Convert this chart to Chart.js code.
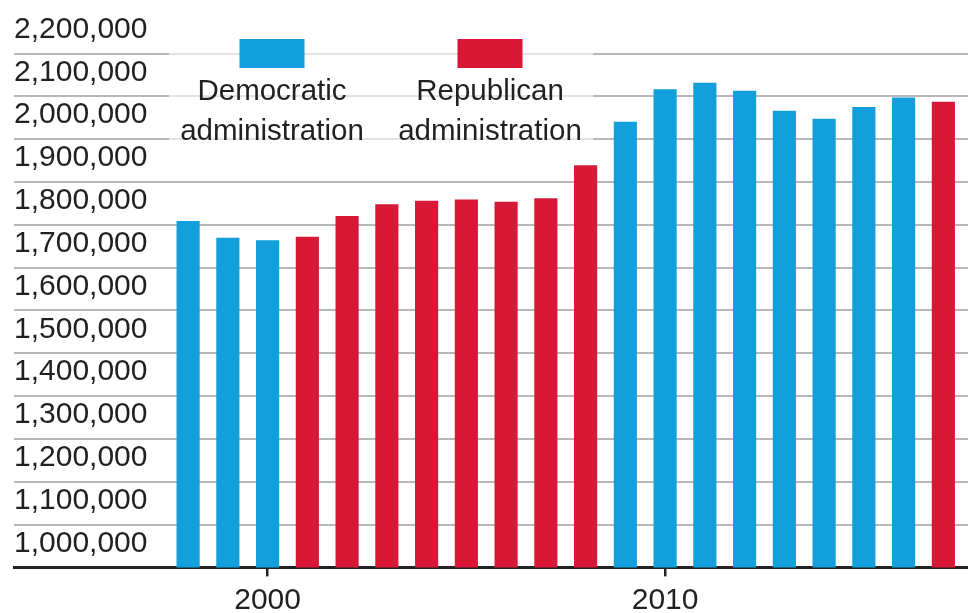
<!DOCTYPE html>
<html>
<head>
<meta charset="utf-8">
<script src="https://cdn.jsdelivr.net/npm/chart.js@4.4.1/dist/chart.umd.min.js"></script>
<style>
  html, body { margin: 0; padding: 0; background: #fff; }
  #wrap { width: 968px; height: 613px; position: relative; }
</style>
</head>
<body>
<div id="wrap"><canvas id="myChart" width="968" height="613"></canvas></div>
<script>
// federal employees per year, bar colour follows the administration
const years = [1998, 1999, 2000, 2001, 2002, 2003, 2004, 2005, 2006, 2007,
               2008, 2009, 2010, 2011, 2012, 2013, 2014, 2015, 2016, 2017];
const employees = [1808000, 1769000, 1763000, 1771500, 1819500, 1847000, 1855500, 1858500, 1853000, 1861000,
                   1938500, 2040000, 2116000, 2131000, 2112000, 2065500, 2047000, 2074500, 2096500, 2086500];
const party = ["D", "D", "D", "R", "R", "R", "R", "R", "R", "R",
               "R", "D", "D", "D", "D", "D", "D", "D", "D", "R"];
const yTicks = [1000000, 1100000, 1200000, 1300000, 1400000, 1500000, 1600000,
                1700000, 1800000, 1900000, 2000000, 2100000, 2200000];
const xTicks = [2000, 2010];
const legendItems = ["Democratic administration", "Republican administration"];

const blue = "#129fdb";
const red = "#d81837";
const textColor = "#231f20";
const fontName = "'Liberation Sans', Arial, sans-serif";

const legendPlugin = {
    id: "partyLegend",
    beforeDatasetsDraw(chart) {
        const ctx = chart.ctx;
        ctx.save();
        ctx.fillStyle = "rgba(255,255,255,0.6)";
        ctx.fillRect(169, 30, 424, 130);
        ctx.restore();
    },
    afterDraw(chart) {
        const ctx = chart.ctx;
        const centres = [272, 490];
        const colours = [blue, red];
        ctx.save();
        ctx.font = "29.5px " + fontName;
        ctx.textAlign = "center";
        ctx.textBaseline = "alphabetic";
        legendItems.forEach(function (item, i) {
            ctx.fillStyle = colours[i];
            ctx.fillRect(centres[i] - 32.5, 39, 65, 29);
            ctx.fillStyle = textColor;
            let words = item.split(" ");
            ctx.fillText(words[0], centres[i], 100);
            ctx.fillText(words[1], centres[i], 140);
        });
        ctx.restore();
    }
};

const ctx = document.getElementById("myChart");

new Chart(ctx, {
    type: "bar",
    data: {
        datasets: [{
            data: years.map((y, i) => ({ x: y, y: employees[i] })),
            backgroundColor: party.map(p => p === "D" ? blue : red),
            barThickness: 22.5,
            borderWidth: 0
        }]
    },
    options: {
        responsive: false,
        animation: false,
        devicePixelRatio: 1,
        layout: { padding: { left: 14, right: 0, top: 53.5, bottom: -12 } },
        plugins: {
            legend: { display: false },
            tooltip: { enabled: false }
        },
        scales: {
            x: {
                type: "linear",
                min: 1993.62,
                max: 2017.62,
                offset: false,
                z: 1,
                afterBuildTicks: function (axis) {
                    axis.ticks = xTicks.map(v => ({ value: v }));
                },
                ticks: {
                    color: textColor,
                    font: { family: fontName, size: 30, lineHeight: 0.667 },
                    padding: 14.3,
                    maxRotation: 0,
                    autoSkip: false,
                    callback: v => String(v)
                },
                grid: {
                    offset: false,
                    drawOnChartArea: false,
                    drawTicks: true,
                    tickLength: 9,
                    tickColor: "#222",
                    tickWidth: 2.5,
                    color: "#222",
                    lineWidth: 2.5
                },
                border: { display: true, color: "#222", width: 3 }
            },
            y: {
                min: 1000000,
                max: 2200000,
                afterBuildTicks: function (axis) {
                    axis.ticks = yTicks.map(v => ({ value: v }));
                },
                ticks: {
                    mirror: true,
                    padding: 0,
                    labelOffset: -24,
                    color: textColor,
                    font: { family: fontName, size: 30 },
                    callback: v => v.toLocaleString("en-US")
                },
                grid: {
                    drawTicks: false,
                    color: "#b8b8b8",
                    lineWidth: 2
                },
                border: { display: false }
            }
        }
    },
    plugins: [legendPlugin]
});
</script>
</body>
</html>
